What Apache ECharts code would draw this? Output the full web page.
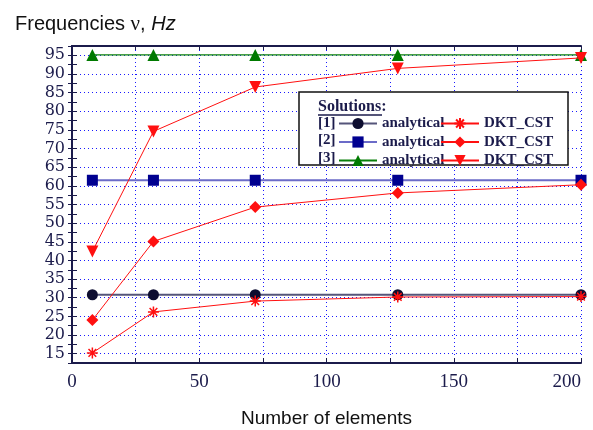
<!DOCTYPE html>
<html>
<head>
<meta charset="utf-8">
<script src="https://cdn.jsdelivr.net/npm/echarts@6/dist/echarts.min.js"></script>
<style>
  html, body { margin: 0; padding: 0; background: #fff; }
  #chart { width: 593px; height: 430px; }
</style>
</head>
<body>
<div id="chart"></div>
<script>
// number of elements (x)
const elements = [8, 32, 72, 128, 200];

// analytical solutions
const analytical1 = [30.8, 30.8, 30.8, 30.8, 30.8];
const analytical2 = [61.5, 61.5, 61.5, 61.5, 61.5];
const analytical3 = [95.1, 95.1, 95.1, 95.1, 95.1];

// DKT_CST results
const dkt1 = [15.2, 26.2, 29.1, 30.2, 30.3];
const dkt2 = [24.0, 45.1, 54.3, 58.1, 60.3];
const dkt3 = [42.4, 74.6, 86.5, 91.5, 94.3];

const ink = '#1b1b4b';
const serif = '"Liberation Serif", "DejaVu Serif", serif';
const sans = '"Liberation Sans", Arial, sans-serif';
const asterisk = 'path://M0,5L10,5M5,0L5,10M1.5,1.5L8.5,8.5M8.5,1.5L1.5,8.5';

function pairs(ys) {
  return elements.map((x, i) => [x, ys[i]]);
}

const chart = echarts.init(document.getElementById('chart'));

const gridLine = {
  show: true,
  lineStyle: { color: '#1a1aff', type: [1, 3], width: 1 }
};

const legendText = {
  fontFamily: serif,
  fontWeight: 'bold',
  fontSize: 15,
  color: ink,
  lineHeight: 14
};

const option = {
  animation: false,
  title: {
    text: '{a|Frequencies }{b|ν}{a|, }{c|Hz}',
    left: 10,
    top: 9,
    textStyle: {
      rich: {
        a: { fontFamily: sans, fontSize: 20, color: '#111', fontWeight: 'normal' },
        b: { fontFamily: serif, fontSize: 21, color: '#111', fontWeight: 'normal' },
        c: { fontFamily: sans, fontSize: 20, fontStyle: 'italic', color: '#111', fontWeight: 'normal' }
      }
    }
  },
  grid: { left: 72, right: 12, top: 46, bottom: 67, outerBoundsMode: 'none' },
  xAxis: [
    {
      type: 'value',
      min: 0,
      max: 200,
      interval: 25,
      name: 'Number of elements',
      nameLocation: 'middle',
      nameGap: 46,
      nameTextStyle: { fontFamily: sans, fontSize: 19, color: '#111' },
      axisLine: { lineStyle: { color: ink, width: 2 } },
      axisTick: { inside: true, length: 5, lineStyle: { color: ink } },
      axisLabel: {
        fontFamily: serif,
        fontSize: 19,
        color: ink,
        margin: 10,
        alignMaxLabel: 'right',
        formatter: v => (v % 50 === 0 ? String(v) : '')
      },
      splitLine: gridLine
    },
    {
      type: 'value',
      position: 'top',
      min: 0,
      max: 200,
      interval: 25,
      axisLine: { show: true, lineStyle: { color: ink, width: 2 } },
      axisTick: { show: true, inside: true, length: 4, lineStyle: { color: ink } },
      axisLabel: { show: false },
      splitLine: { show: false }
    }
  ],
  yAxis: [
    {
      type: 'value',
      min: 12.5,
      max: 97.5,
      interval: 2.5,
      axisLine: { show: true, lineStyle: { color: ink, width: 2 } },
      axisTick: { show: true, inside: true, length: 5, lineStyle: { color: ink } },
      axisLabel: {
        fontFamily: '"DejaVu Serif", serif',
        fontSize: 16,
        color: ink,
        margin: 7,
        formatter: v => (v % 5 === 0 ? String(v) : '')
      },
      splitLine: {
        show: true,
        lineStyle: { color: ['rgba(0,0,0,0)', '#1a1aff'], type: [1, 3], width: 1 }
      }
    },
    {
      type: 'value',
      position: 'right',
      min: 12.5,
      max: 97.5,
      interval: 2.5,
      axisLine: { show: true, lineStyle: { color: ink, width: 2 } },
      axisTick: { show: true, inside: true, length: 4, lineStyle: { color: ink } },
      axisLabel: { show: false },
      splitLine: { show: false }
    }
  ],
  legend: [
    {
      data: ['a1', 'a2', 'a3'],
      orient: 'vertical',
      left: 338,
      top: 116,
      padding: 0,
      itemWidth: 38,
      itemHeight: 14,
      itemGap: 3.5,
      formatter: () => 'analytical',
      textStyle: legendText
    },
    {
      data: ['d1', 'd2', 'd3'],
      orient: 'vertical',
      left: 440,
      top: 116,
      padding: 0,
      itemWidth: 38,
      itemHeight: 14,
      itemGap: 3.5,
      formatter: () => 'DKT_CST',
      textStyle: legendText
    }
  ],
  graphic: [
    {
      type: 'rect',
      z: 3,
      shape: { x: 299, y: 92, width: 269, height: 73 },
      style: { fill: '#fff', stroke: '#111', lineWidth: 1.5 }
    },
    {
      type: 'text',
      z: 5,
      x: 318,
      y: 107,
      style: { text: 'Solutions:', font: 'bold 16px ' + serif, fill: ink, verticalAlign: 'middle' }
    },
    {
      type: 'line',
      z: 5,
      shape: { x1: 318, y1: 115, x2: 382, y2: 115 },
      style: { stroke: ink, lineWidth: 1.5 }
    },
    {
      type: 'text', z: 5, x: 318, y: 123,
      style: { text: '[1]', font: 'bold 15px ' + serif, fill: ink, verticalAlign: 'middle' }
    },
    {
      type: 'text', z: 5, x: 318, y: 140.5,
      style: { text: '[2]', font: 'bold 15px ' + serif, fill: ink, verticalAlign: 'middle' }
    },
    {
      type: 'text', z: 5, x: 318, y: 158,
      style: { text: '[3]', font: 'bold 15px ' + serif, fill: ink, verticalAlign: 'middle' }
    }
  ],
  series: [
    {
      name: 'a1',
      type: 'line',
      data: pairs(analytical1),
      symbol: 'circle',
      symbolSize: 11,
      z: 2,
      lineStyle: { color: '#55557a', width: 2 },
      itemStyle: { color: '#0d0d30' }
    },
    {
      name: 'a2',
      type: 'line',
      data: pairs(analytical2),
      symbol: 'rect',
      symbolSize: 11,
      z: 2,
      lineStyle: { color: '#6b6bc8', width: 2 },
      itemStyle: { color: '#000090' }
    },
    {
      name: 'a3',
      type: 'line',
      data: pairs(analytical3),
      symbol: 'triangle',
      symbolSize: 12,
      z: 2,
      lineStyle: { color: '#0a800a', width: 1.2 },
      itemStyle: { color: '#007a00' }
    },
    {
      name: 'd1',
      type: 'line',
      data: pairs(dkt1),
      symbol: asterisk,
      symbolSize: 11,
      z: 3,
      lineStyle: { color: '#ff1010', width: 1 },
      itemStyle: { color: '#ff1010', borderColor: '#ff1010', borderWidth: 1.5 }
    },
    {
      name: 'd2',
      type: 'line',
      data: pairs(dkt2),
      symbol: 'diamond',
      symbolSize: 12,
      z: 3,
      lineStyle: { color: '#ff1010', width: 1 },
      itemStyle: { color: '#ff1010' }
    },
    {
      name: 'd3',
      type: 'line',
      data: pairs(dkt3),
      symbol: 'triangle',
      symbolRotate: 180,
      symbolSize: 12,
      z: 3,
      lineStyle: { color: '#ff1010', width: 1 },
      itemStyle: { color: '#ff1010' }
    }
  ]
};

chart.setOption(option);
</script>
</body>
</html>
